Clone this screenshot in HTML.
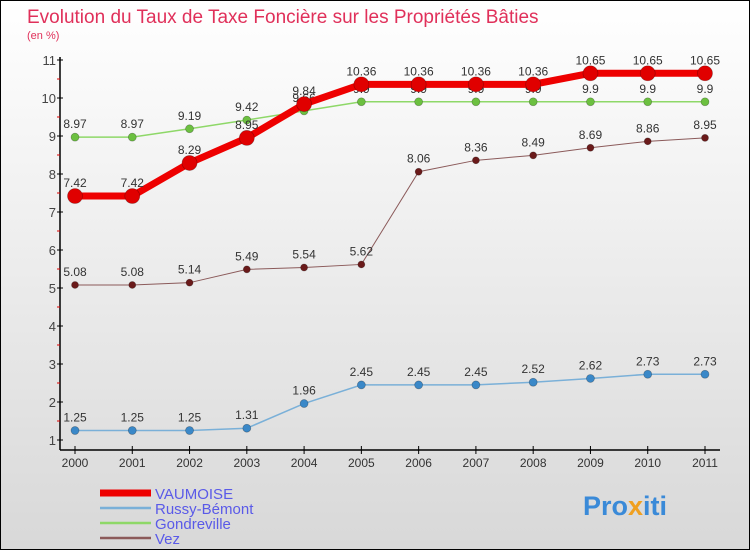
<!DOCTYPE html>
<html><head><meta charset="utf-8"><style>
body{margin:0;width:750px;height:550px;overflow:hidden;font-family:"Liberation Sans",sans-serif}
</style></head><body>
<svg width="750" height="550" xmlns="http://www.w3.org/2000/svg">
<defs><linearGradient id="bg" x1="0" y1="0" x2="0" y2="1"><stop offset="0" stop-color="#ffffff"/><stop offset="1" stop-color="#d8d8d8"/></linearGradient></defs>
<rect x="0.5" y="0.5" width="749" height="549" fill="url(#bg)" stroke="#000"/>
<text x="27" y="23" font-size="19" fill="#e0305a">Evolution du Taux de Taxe Foncière sur les Propriétés Bâties</text>
<text x="27" y="39" font-size="11" fill="#e0305a">(en %)</text>
<g id="axes"></g><g id="series"></g><g id="legend"></g>
<text x="583" y="515" font-size="27" font-weight="bold" fill="#3a8ad8">Pro<tspan fill="#f0a020">x</tspan>iti</text>
</svg>
<script>
const years=[2000,2001,2002,2003,2004,2005,2006,2007,2008,2009,2010,2011];
const yTicks=[1,2,3,4,5,6,7,8,9,10,11];
const vaumoise=[7.42,7.42,8.29,8.95,9.84,10.36,10.36,10.36,10.36,10.65,10.65,10.65];
const russy=[1.25,1.25,1.25,1.31,1.96,2.45,2.45,2.45,2.52,2.62,2.73,2.73];
const gondreville=[8.97,8.97,9.19,9.42,9.66,9.9,9.9,9.9,9.9,9.9,9.9,9.9];
const vez=[5.08,5.08,5.14,5.49,5.54,5.62,8.06,8.36,8.49,8.69,8.86,8.95];
const seriesNames=["VAUMOISE","Russy-Bémont","Gondreville","Vez"];
const NS="http://www.w3.org/2000/svg";
const X=i=>75+i*(630/11);
const Y=v=>440-(v-1)*38;
function mk(tag,attrs,parent,txt){const e=document.createElementNS(NS,tag);for(const k in attrs)e.setAttribute(k,attrs[k]);if(txt!==undefined)e.textContent=txt;parent.appendChild(e);return e;}
const ax=document.getElementById('axes');
let a=mk('line',{x1:60,y1:57,x2:60,y2:450,stroke:'#000','stroke-width':1.5},ax);


a=mk('line',{x1:60,y1:450,x2:720,y2:450,stroke:'#000','stroke-width':1.5},ax);


yTicks.forEach((t,i)=>{
 mk('line',{x1:57,y1:Y(t),x2:63,y2:Y(t),stroke:'#000'},ax);
 if(i<yTicks.length-1)mk('line',{x1:57,y1:Y(t+0.5),x2:60,y2:Y(t+0.5),stroke:'#d00'},ax);
 const l=mk('text',{x:56,y:Y(t)+5,'font-size':13,'text-anchor':'end',fill:'#444'},ax,t);
 
 
});
years.forEach((y,i)=>{
 mk('line',{x1:X(i),y1:446,x2:X(i),y2:454,stroke:'#000'},ax);
 const l=mk('text',{x:X(i),y:467,'font-size':12,'text-anchor':'middle',fill:'#333'},ax,y);
 
 
});
const sg=document.getElementById('series');
const defs=[[gondreville,'#8ed868','#6cc040',1.5,4,'gondreville'],[vez,'#8b5a5a','#6a1a1a',1,3.5,'vez'],[russy,'#7ab0d8','#3a88c8',1.5,4,'russy-bemont'],[vaumoise,'#ee0000','#e00000',7,7.5,'vaumoise']];
defs.forEach(([d,lc,pc,w,r,n])=>{
 const g=mk('g',{},sg);
 
 
 const p=mk('polyline',{points:d.map((v,i)=>X(i)+','+Y(v)).join(' '),fill:'none',stroke:lc,'stroke-width':w},g);
 
 
 d.forEach((v,i)=>{
  const c=mk('circle',{cx:X(i),cy:Y(v),r:r,fill:pc,stroke:'rgba(0,0,0,0.3)','stroke-width':0.7},g);
  
  
  const t=mk('text',{x:X(i),y:Y(v)-9,'font-size':12,'text-anchor':'middle',fill:'#333'},g,v);
  
  
 });
});
const lg=document.getElementById('legend');
const lcol=['#ee0000','#7ab0d8','#8ed868','#8b5a5a'],lw=[7,2.5,2.5,2.5];
seriesNames.forEach((s,i)=>{
 const y=493+i*15;
 const g=mk('g',{},lg);
 
 
 mk('line',{x1:100,y1:y,x2:151,y2:y,stroke:lcol[i],'stroke-width':lw[i]},g);
 mk('text',{x:155,y:y+6,'font-size':15,fill:'#5a5ae8'},g,s);
});
</script>
</body></html>
